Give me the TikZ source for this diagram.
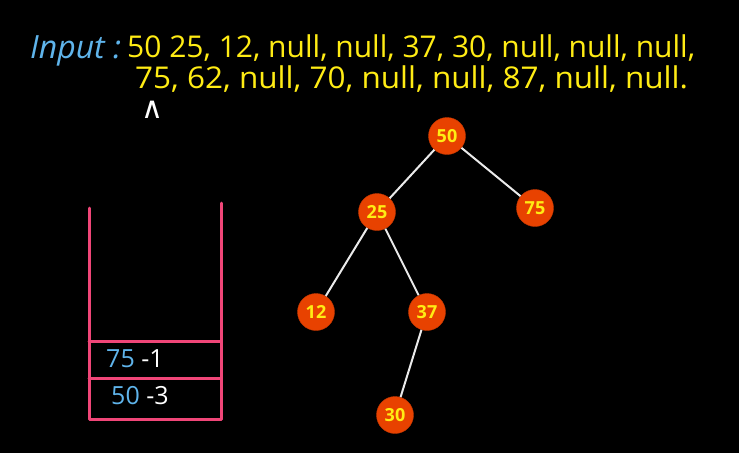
\documentclass[tikz,border=0pt]{standalone}
\usepackage{fontspec}
\setmainfont{Open Sans}
\newfontfamily\symfont{DejaVu Sans}
\usetikzlibrary{positioning}
\definecolor{chalkyellow}{RGB}{255,236,20}
\definecolor{chalkblue}{RGB}{95,180,235}
\definecolor{stackpink}{RGB}{240,70,120}
\definecolor{nodeorange}{RGB}{232,66,0}

\begin{document}
\begin{tikzpicture}[x=1pt,y=-1pt,
	treenode/.style={circle,fill=nodeorange,draw=nodeorange!85!black,minimum size=37pt,inner sep=0pt,text=chalkyellow,font=\bfseries\fontsize{18}{18}\selectfont},
	treelink/.style={draw=white!92!black,line width=2pt},
	stackwall/.style={draw=stackpink,line width=3pt,line join=round,line cap=round},
	inputtext/.style={text=chalkyellow,inner sep=0pt,anchor=base west,font=\fontsize{30}{30}\selectfont},
	celltext/.style={anchor=west,inner sep=0pt,font=\fontsize{25}{25}\selectfont}]
	\useasboundingbox (0,0) rectangle (739,453);
	\fill[black] (0,0) rectangle (739,453);
	%% input line
	\node[inner sep=0pt,anchor=base west,text=chalkblue,font=\itshape\fontsize{32}{32}\selectfont] (label) at (30,58) {Input :};
	\node[inputtext] (row1) at (127,57) {50 25, 12, null, null, 37, 30, null, null, null,};
	\node[inputtext,xscale=1.05] (row2) at (135,88) {75, 62, null, 70, null, null, 87, null, null.};
	\node[text=white,inner sep=0pt,anchor=base,text height=15pt,text depth=0pt,font=\symfont\fontsize{30}{30}\selectfont] (caret) at (152,118) {∧};
	%% tree
	\node[treenode] (n50) at (447,136) {50};
	\node[treenode] (n25) at (377,212) {25};
	\node[treenode] (n75) at (535,208) {75};
	\node[treenode] (n12) at (316,312) {12};
	\node[treenode] (n37) at (427,312) {37};
	\node[treenode] (n30) at (395,415) {30};
	\draw[treelink] (n50) -- (n25);
	\draw[treelink] (n50) -- (n75);
	\draw[treelink] (n25) -- (n12);
	\draw[treelink] (n25) -- (n37);
	\draw[treelink] (n37) -- (n30);
	%% stack
	\draw[stackwall] (89,208) -- (89,419) -- (221,419) -- (221,203);
	\draw[stackwall] (89,341) -- (221,341);
	\draw[stackwall] (89,378) -- (221,378);
	\node[celltext] (top) at (106,359) {\textcolor{chalkblue}{75} \textcolor{white}{-1}};
	\node[celltext] (bottom) at (111,396) {\textcolor{chalkblue}{50} \textcolor{white}{-3}};
\end{tikzpicture}
\end{document}
